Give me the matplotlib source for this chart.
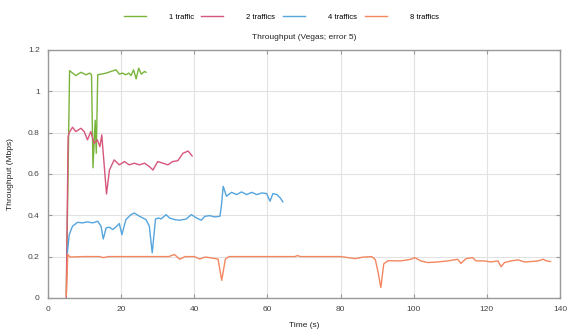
import numpy as np
import matplotlib.pyplot as plt

# throughput samples (time in s, throughput in Mbps)
t1 = [5.0, 5.9, 7.6, 9.0, 10.4, 11.4, 11.9, 12.3, 12.9, 13.2, 13.6, 14.5, 15.9,
      17.2, 18.6, 19.5, 20.4, 21.2, 22.1, 22.7, 23.4, 24.1, 24.8, 25.5, 26.4, 26.8]
y1 = [0.02, 1.10, 1.076, 1.092, 1.08, 1.088, 1.08, 0.63, 0.86, 0.70, 1.08, 1.083,
      1.088, 1.096, 1.104, 1.083, 1.088, 1.08, 1.088, 1.076, 1.104, 1.06, 1.112,
      1.083, 1.096, 1.092]

t2 = [5.0, 5.5, 5.8, 6.7, 7.6, 9.0, 9.9, 10.8, 11.7, 12.6, 13.5, 14.2, 14.7, 16.0,
      16.8, 18.1, 19.5, 20.9, 22.2, 23.6, 25.0, 26.4, 27.7, 28.7, 30.0, 31.4, 32.8,
      34.1, 35.5, 36.9, 38.3, 39.4]
y2 = [0.0, 0.78, 0.80, 0.826, 0.805, 0.821, 0.805, 0.765, 0.805, 0.748, 0.765, 0.732,
      0.789, 0.503, 0.619, 0.668, 0.644, 0.66, 0.644, 0.652, 0.644, 0.652, 0.636,
      0.619, 0.66, 0.652, 0.644, 0.66, 0.664, 0.70, 0.711, 0.687]

t4 = [5.3, 5.8, 6.7, 8.1, 9.4, 10.8, 12.2, 13.6, 14.5, 15.1, 15.9, 16.8, 17.7, 18.8,
      19.5, 20.2, 21.3, 22.7, 23.6, 25.0, 26.8, 27.7, 28.5, 29.4, 30.3, 30.9, 32.3,
      33.2, 34.6, 36.0, 37.8, 39.2, 40.6, 41.9, 42.9, 44.2, 45.6, 47.0, 47.4, 47.9,
      48.8, 50.2, 51.6, 52.9, 54.3, 55.7, 57.1, 58.4, 59.8, 60.7, 61.5, 62.6, 63.5,
      64.2]
y4 = [0.218, 0.306, 0.347, 0.366, 0.363, 0.368, 0.363, 0.371, 0.347, 0.285, 0.339,
      0.342, 0.331, 0.347, 0.36, 0.306, 0.379, 0.403, 0.411, 0.395, 0.379, 0.347,
      0.218, 0.382, 0.387, 0.382, 0.403, 0.387, 0.379, 0.376, 0.382, 0.403, 0.387,
      0.376, 0.395, 0.398, 0.392, 0.395, 0.444, 0.54, 0.492, 0.511, 0.50, 0.513,
      0.50, 0.511, 0.50, 0.508, 0.505, 0.468, 0.505, 0.50, 0.484, 0.465]

t8 = [5.0, 5.4, 6.0, 10, 14, 15.2, 16.5, 25, 33, 34.6, 36.0, 37.5, 40, 41.5, 43,
      46.5, 47.5, 48.5, 49.5, 55, 60, 67.5, 68.2, 69, 80, 84, 86, 88.5, 89.5, 90.3,
      91.0, 91.8, 93, 96.4, 99.2, 100.3, 101.9, 103.8, 106.5, 109.3, 112, 112.9,
      114.3, 116.1, 117, 119.3, 121.1, 123, 123.9, 124.8, 126.6, 128.5, 130.3,
      132.1, 134, 135.4, 136.3, 137.4]
y8 = [0.01, 0.21, 0.198, 0.2, 0.2, 0.195, 0.2, 0.2, 0.2, 0.21, 0.187, 0.2, 0.2,
      0.188, 0.198, 0.188, 0.085, 0.188, 0.2, 0.2, 0.2, 0.2, 0.205, 0.2, 0.2, 0.19,
      0.197, 0.2, 0.185, 0.12, 0.05, 0.165, 0.18, 0.179, 0.187, 0.195, 0.179, 0.171,
      0.174, 0.179, 0.187, 0.167, 0.19, 0.195, 0.179, 0.179, 0.174, 0.179, 0.151,
      0.171, 0.179, 0.184, 0.174, 0.176, 0.179, 0.187, 0.179, 0.176]

labels = ['1 traffic', '2 traffics', '4 traffics', '8 traffics']
colors = ['#78b43a', '#d6567c', '#55a5de', '#f3875f']
xticks = [0, 20, 40, 60, 80, 100, 120, 140]
yticks = [0, 0.2, 0.4, 0.6, 0.8, 1, 1.2]
yticklabels = ['0', '0.2', '0.4', '0.6', '0.8', '1', '1.2']

plt.rcParams['font.family'] = ['Liberation Sans', 'DejaVu Sans']
plt.rcParams['font.size'] = 6

fig = plt.figure(figsize=(5.68, 3.31), dpi=100)
ax = fig.add_axes([0.0845, 0.1, 0.9015, 0.749])

for t, y, lab, c in zip([t1, t2, t4, t8], [y1, y2, y4, y8], labels, colors):
    ax.plot(t, y, color=c, lw=1.0, label=lab)

ax.set_xlim(0, 140)
ax.set_ylim(0, 1.2)
ax.set_xticks(xticks)
ax.set_yticks(yticks)
ax.set_yticklabels(yticklabels)
ax.grid(True, color='#e2e2e2', lw=0.8)
ax.set_axisbelow(True)
for s in ax.spines.values():
    s.set_color('#999999')
    s.set_linewidth(1.0)
ax.tick_params(direction='in', length=3, color='#999999', labelcolor='#444444',
               top=True, right=True, pad=6)

ax.set_title('Throughput (Vegas; error 5)', fontsize=6, color='#222222', pad=8)
ax.set_xlabel('Time (s)', fontsize=6, color='#222222', labelpad=6)
ax.set_ylabel('Throughput (Mbps)', fontsize=6, color='#222222', labelpad=10)

fig.legend(loc='center', bbox_to_anchor=(0.495, 0.949), ncol=4, frameon=False,
           handlelength=2.9, handletextpad=3.0, columnspacing=1.0, fontsize=5.5)

fig.savefig('out.png', dpi=100)
